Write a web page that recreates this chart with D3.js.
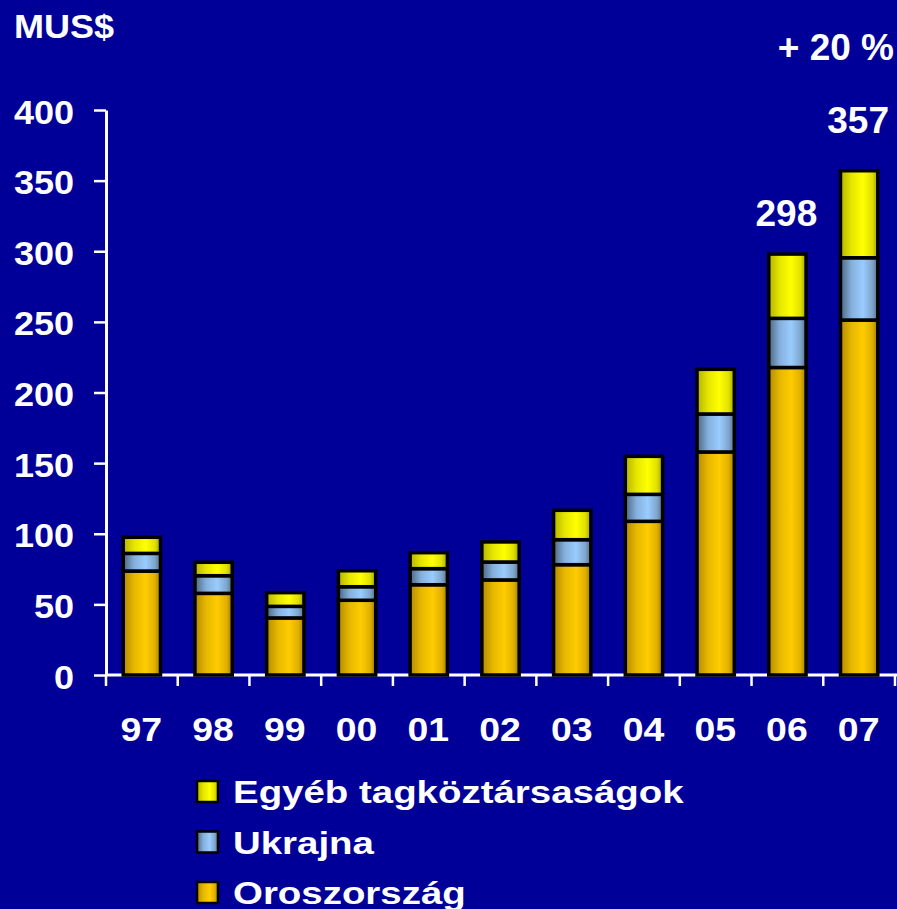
<!DOCTYPE html>
<html>
<head>
<meta charset="utf-8">
<script src="https://cdn.jsdelivr.net/npm/d3@7"></script>
<style>
html,body{margin:0;padding:0;background:#000099;}
svg{display:block;}
text{font-family:"Liberation Sans",Arial,sans-serif;font-weight:bold;fill:#fff;}
</style>
</head>
<body>
<svg id="chart" width="897" height="909"></svg>
<script>
const years = ["97","98","99","00","01","02","03","04","05","06","07"];
const oroszorszag = [73.6, 57.8, 40.4, 52.9, 63.9, 67.3, 78.1, 108.8, 157.9, 217.7, 251.3];
const ukrajna = [12.5, 12.5, 8.2, 9.6, 11.4, 12.7, 17.7, 19.1, 26.9, 34.8, 44.1];
const egyeb = [11.4, 9.5, 9.7, 11.3, 11.3, 14.2, 20.8, 26.9, 31.6, 45.5, 61.6];
const yTicks = [0, 50, 100, 150, 200, 250, 300, 350, 400];
const seriesNames = ["Oroszország", "Ukrajna", "Egyéb tagköztársaságok"];
const annotations = [{year:"06", text:"298", value:298}, {year:"07", text:"357", value:357}];
const growthLabel = "+ 20 %";
const unitLabel = "MUS$";

const annOffsets = [28, 38];
const svg = d3.select("#chart");
const defs = svg.append("defs");
const grads = [
  {id:"gOro", stops:[["0%","#b38a00"],["30%","#e6b800"],["60%","#ffcc00"],["85%","#e0b000"],["100%","#a07a00"]]},
  {id:"gUkr", stops:[["0%","#4d6680"],["30%","#85b0dd"],["60%","#99ccff"],["85%","#7fa6cc"],["100%","#56708a"]]},
  {id:"gEgy", stops:[["0%","#b3b300"],["30%","#e6e600"],["60%","#ffff00"],["85%","#e0e000"],["100%","#a0a000"]]}
];
grads.forEach(g => {
  const lg = defs.append("linearGradient").attr("id", g.id).attr("x1","0").attr("x2","1").attr("y1","0").attr("y2","0");
  g.stops.forEach(s => lg.append("stop").attr("offset", s[0]).attr("stop-color", s[1]));
});
const fills = ["url(#gOro)", "url(#gUkr)", "url(#gEgy)"];

function stretchText(sel, x, y, txt, size, sx, anchor) {
  return sel.append("text")
    .attr("transform", `translate(${x},${y}) scale(${sx},1)`)
    .attr("text-anchor", anchor || "start")
    .style("font-size", size + "px")
    .text(txt);
}

const x = d3.scaleBand().domain(years).range([106, 895]).paddingInner(0.48).paddingOuter(0.24);
const y = d3.scaleLinear().domain([0, 400]).range([675, 110]);

const table = years.map((yr, i) => ({year: yr, "Oroszország": oroszorszag[i], "Ukrajna": ukrajna[i], "Egyéb tagköztársaságok": egyeb[i]}));
const stacked = d3.stack().keys(seriesNames)(table);

// y axis
const yAxis = svg.append("g").attr("transform","translate(106,0)")
  .call(d3.axisLeft(y).tickValues(yTicks).tickSize(12).tickSizeOuter(0));
yAxis.select(".domain").attr("stroke","#fff").attr("stroke-width",3);
yAxis.selectAll(".tick line").attr("stroke","#fff").attr("stroke-width",2.5);
yAxis.selectAll(".tick text")
  .attr("fill","#fff").attr("x",0).attr("dy",null).attr("y",0)
  .attr("transform","translate(-32,13) scale(1.06,1)")
  .style("font-size","34px").attr("text-anchor","end");

// x axis
const xb = d3.scaleLinear().domain([0, years.length]).range([106, 895]);
const xAxis = svg.append("g").attr("transform","translate(0,675)");
xAxis.append("line").attr("x1",106).attr("x2",897).attr("y1",0).attr("y2",0).attr("stroke","#fff").attr("stroke-width",3);
xAxis.selectAll("line.tk").data(d3.range(years.length + 1)).join("line").attr("class","tk")
  .attr("x1", d => xb(d)).attr("x2", d => xb(d)).attr("y1", 0).attr("y2", 11)
  .attr("stroke","#fff").attr("stroke-width",2.5);
years.forEach(d => stretchText(xAxis, x(d) + x.bandwidth()/2 - 0.5, 66, d, 34, 1.1, "middle"));

// bars
svg.append("g").selectAll("g").data(stacked).join("g")
  .attr("fill", (d, i) => fills[i])
  .selectAll("rect").data(d => d).join("rect")
  .attr("x", d => x(d.data.year))
  .attr("width", x.bandwidth())
  .attr("y", d => y(d[1]))
  .attr("height", d => y(d[0]) - y(d[1]))
  .attr("stroke","#000").attr("stroke-width",3.5);

// annotations
annotations.forEach((a, i) => {
  svg.append("text")
    .attr("x", x(a.year) + x.bandwidth()/2 - 1)
    .attr("y", y(a.value) - annOffsets[i])
    .attr("text-anchor","middle").style("font-size","37px").text(a.text);
});
svg.append("text").attr("x", 894).attr("y", 60).attr("text-anchor","end").style("font-size","37px").text(growthLabel);
stretchText(svg, 14, 38, unitLabel, 34, 1.06, "start");

// legend
const legendItems = [{name: seriesNames[2], fill: fills[2]}, {name: seriesNames[1], fill: fills[1]}, {name: seriesNames[0], fill: fills[0]}];
const lg = svg.append("g").selectAll("g").data(legendItems).join("g")
  .attr("transform", (d, i) => `translate(197,${781 + i*50.5})`);
lg.append("rect").attr("width",21).attr("height",21).attr("fill", d => d.fill).attr("stroke","#000").attr("stroke-width",2.5);
lg.each(function(d) { stretchText(d3.select(this), 36, 22, d.name, 30.5, 1.26, "start"); });
</script>
</body>
</html>
